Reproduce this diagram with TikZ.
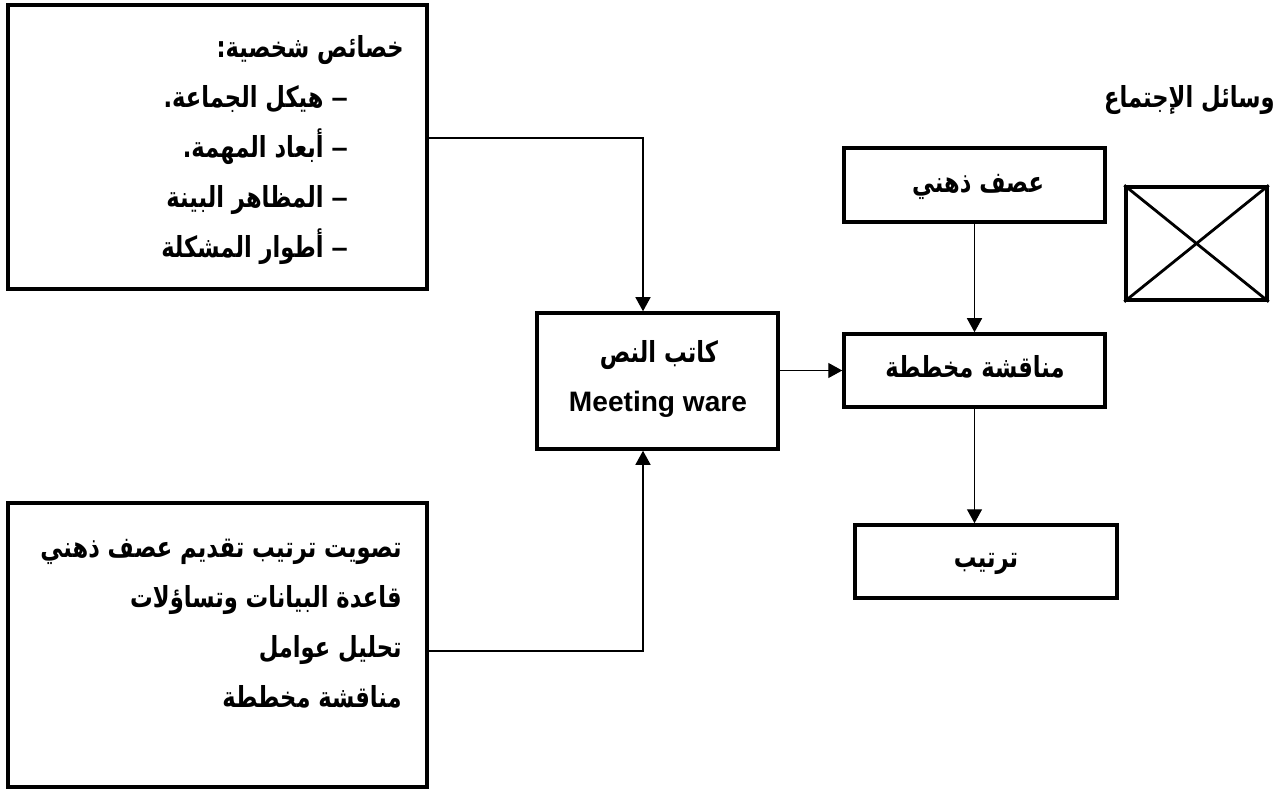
\documentclass[tikz,border=0pt]{standalone}
\usepackage{fontspec}
\setmainfont{Liberation Sans}
\newfontfamily\arabicfont[Script=Arabic, FakeStretch=0.78]{DejaVu Sans}
\TeXXeTstate=1
\usetikzlibrary{arrows.meta}
\usetikzlibrary{fit}
\tikzset{
  box/.style={draw, line width=2pt, inner sep=0pt},
  conn/.style={line width=0.8pt},
  arr/.style={conn, -{Triangle[length=0.28cm,width=0.3cm]}},
  ar/.style={font=\arabicfont\bfseries\fontsize{16.5}{19}\selectfont, inner sep=0pt},
  lat/.style={font=\bfseries\fontsize{16}{19}\selectfont, inner sep=0pt},
}
\newcommand{\rtl}[1]{\beginR #1\endR}
\newcommand{\bdash}{{\rmfamily\bfseries –}\ }

\begin{document}
\begin{tikzpicture}[x=0.02cm, y=-0.02cm]
  \useasboundingbox (0,0) rectangle (1285,791);

  % left boxes
  \node[box, fit={(8,5) (427,289)}] (traits) {};
  \node[ar, anchor=base east] (traitstitle) at (404,57) {\rtl{خصائص شخصية:}};
  \foreach \t [count=\i] in {هيكل الجماعة., أبعاد المهمة., المظاهر البينة, أطوار المشكلة} {
    \node[ar, anchor=base east] (trait\i) at (348,57+50*\i) {\rtl{\bdash\t}};
  }

  \node[box, fit={(8,503) (427,787)}] (tools) {};
  \foreach \t [count=\i] in {تصويت ترتيب تقديم عصف ذهني, قاعدة البيانات وتساؤلات, تحليل عوامل, مناقشة مخططة} {
    \node[ar, anchor=base east] (tool\i) at (402,507+50*\i) {\rtl{\t}};
  }

  % centre
  \node[box, fit={(537,313) (778,449)}] (meeting) {};
  \node[ar, anchor=base] (writer) at (659,362) {\rtl{كاتب النص}};
  \node[lat] (ware) at (658,404) {Meeting ware};

  % right column
  \node[ar, anchor=base east] (means) at (1275,107) {\rtl{وسائل الإجتماع}};
  \node[box, fit={(844,148) (1105,222)}] (brain) {};
  \node[ar, anchor=base] (braintext) at (978,192) {\rtl{عصف ذهني}};
  \node[box, fit={(844,334) (1105,407)}] (plan) {};
  \node[ar, anchor=base] (plantext) at (975,377) {\rtl{مناقشة مخططة}};
  \node[box, fit={(855,525) (1117,598)}] (order) {};
  \node[ar, anchor=base] (ordertext) at (986,567) {\rtl{ترتيب}};

  \node[box, fit={(1126,187) (1267,300)}] (photo) {};
  \draw[line width=1.6pt] (photo.north west) -- (photo.south east)
    (photo.north east) -- (photo.south west);

  % connectors
  \coordinate (topjoin) at (643,138);
  \coordinate (botjoin) at (643,651);
  \draw[arr] (traits.east |- topjoin) -- (topjoin) -- (topjoin |- meeting.north);
  \draw[arr] (tools.east |- botjoin) -- (botjoin) -- (botjoin |- meeting.south);
  \draw[arr] (meeting.east |- plan.west) -- (plan.west);
  \draw[arr] (brain.south) -- (plan.north);
  \draw[arr] (plan.south) -- (plan.south |- order.north);
\end{tikzpicture}
\end{document}
